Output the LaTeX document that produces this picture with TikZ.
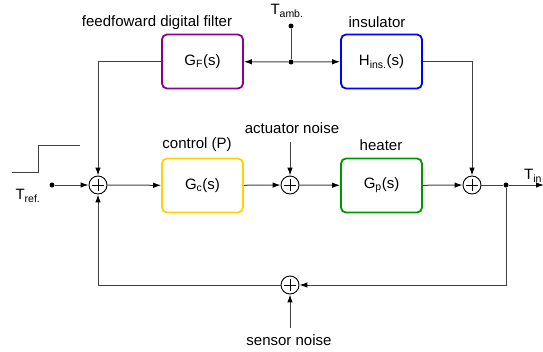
\documentclass[tikz,border=0pt]{standalone}
\usepackage{fontspec}
\setmainfont{Liberation Sans}
\usetikzlibrary{arrows.meta}
\definecolor{gfcol}{RGB}{140,0,140}
\definecolor{hcol}{RGB}{0,0,255}
\definecolor{gccol}{RGB}{255,210,0}
\definecolor{gpcol}{RGB}{0,150,0}
\begin{document}
\begin{tikzpicture}[x=1pt,y=-1pt,
  font=\fontsize{15}{18}\selectfont,
  conn/.style={draw=black!75, line width=1pt},
  arr/.style={conn, -{Latex[length=8pt,width=5.5pt,color=black]}},
  blk/.style={draw, rounded corners=5pt, line width=1.8pt, minimum width=81pt, minimum height=54pt, inner sep=0pt},
  sumnode/.style={circle, draw, line width=0.9pt, minimum size=18pt, inner sep=0pt,
    path picture={\draw[line width=0.9pt]
      ([xshift=-6pt]path picture bounding box.center) -- ([xshift=6pt]path picture bounding box.center)
      ([yshift=-6pt]path picture bounding box.center) -- ([yshift=6pt]path picture bounding box.center);}},
  dotnode/.style={circle, fill, inner sep=0pt, minimum size=5pt},
  lbl/.style={inner sep=0pt}]
\useasboundingbox (0,0) rectangle (543,351);

% blocks
\node[blk, draw=gfcol] (GF) at (202.5,61.5) {G\textsubscript{F}(s)};
\node[blk, draw=hcol] (H) at (381.5,61.5) {H\textsubscript{ins.}(s)};
\node[blk, draw=gccol] (Gc) at (202.5,185.5) {G\textsubscript{c}(s)};
\node[blk, draw=gpcol] (Gp) at (381.5,185.5) {G\textsubscript{p}(s)};

% summing junctions
\node[sumnode] (s1) at (98,185) {};
\node[sumnode] (s2) at (290,185) {};
\node[sumnode] (s3) at (472,185) {};
\node[sumnode] (s4) at (290,285) {};

% dots and coordinates
\node[dotnode] (tref) at (52,185) {};
\node[dotnode] (br) at (506,185) {};
\node[dotnode] (tamb) at (291,26) {};
\node[dotnode] (j) at (291,62) {};
\coordinate (out) at (544,185);
\coordinate (an) at (290,142);
\coordinate (sn) at (290,328);

% labels
\node[lbl] (lref) at (28,196) {T\textsubscript{ref.}};
\node[lbl] (lamb) at (287,11) {T\textsubscript{amb.}};
\node[lbl, anchor=west] (lin) at (524,176) {T\textsubscript{in}};
\node[lbl] (lff) at (157,23) {feedfoward digital filter};
\node[lbl] (lins) at (377,22) {insulator};
\node[lbl] (lctl) at (197,145) {control (P)};
\node[lbl] (lact) at (292,128) {actuator noise};
\node[lbl] (lhtr) at (381,145) {heater};
\node[lbl] (lsen) at (289,340) {sensor noise};

% step symbol
\draw[conn] (12,172) -- (38,172) -- (38,145) -- (80,145);

% connectors
\draw[arr] (tref) -- (s1);
\draw[arr] (s1) -- (Gc);
\draw[arr] (Gc) -- (s2);
\draw[arr] (an) -- (s2);
\draw[arr] (s2) -- (Gp);
\draw[arr] (Gp) -- (s3);
\draw[conn] (s3) -- (br);
\draw[arr] (br) -- (out);
\draw[arr] (br) |- (s4);
\draw[arr] (s4) -| (s1);
\draw[arr] (sn) -- (s4);
\draw[conn] (tamb) -- (j);
\draw[arr] (j) -- (GF);
\draw[arr] (j) -- (H);
\draw[arr] (GF) -| (s1);
\draw[arr] (H) -| (s3);
\end{tikzpicture}
\end{document}
